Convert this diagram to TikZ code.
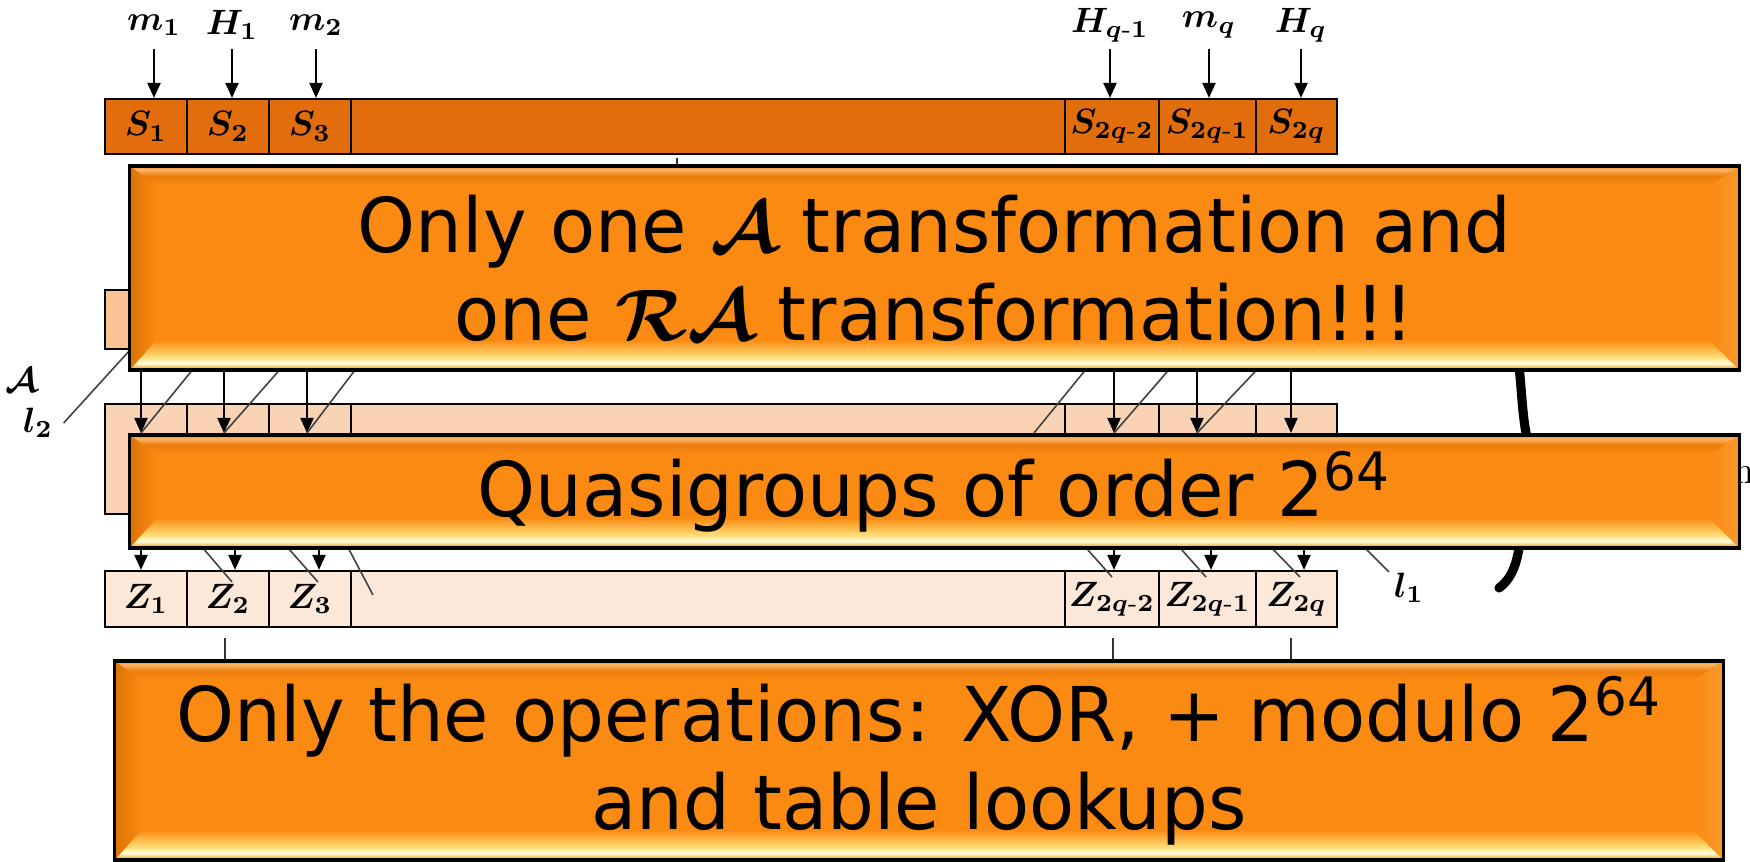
\documentclass[tikz,border=0pt]{standalone}
\usepackage{fontspec}
\usepackage{amsmath}
\usepackage{bm}
\usetikzlibrary{arrows.meta}
\newfontfamily\bannerfont{DejaVu Sans}[FakeStretch=0.975]
\definecolor{srow}{HTML}{E26D0C}
\definecolor{arowc}{HTML}{F9C394}
\definecolor{qrow}{HTML}{F9D3B3}
\definecolor{zrow}{HTML}{FCE8D9}
\definecolor{bnmain}{HTML}{FB8A12}
\definecolor{bndark}{HTML}{EB7D0B}
\definecolor{bnlight}{HTML}{FFB366}
\definecolor{bnedge}{HTML}{F29128}
\definecolor{bnlow}{HTML}{C0650C}
\definecolor{bngold}{HTML}{F6B43A}
\definecolor{bnwhite}{HTML}{FFFCE0}
\definecolor{bnyel}{HTML}{FFE07A}
\definecolor{bnside}{HTML}{DC7206}
\definecolor{bnrside}{HTML}{F79A2C}
\pgfdeclareverticalshading{bevtop}{100bp}{color(0bp)=(bnmain); color(25bp)=(bnmain); color(50bp)=(bndark); color(66bp)=(bnlight); color(75bp)=(bnedge); color(100bp)=(bnedge)}
\pgfdeclareverticalshading{bevbot}{100bp}{color(0bp)=(bnlow); color(25bp)=(bnlow); color(29bp)=(bngold); color(36bp)=(bnwhite); color(46bp)=(bnyel); color(75bp)=(bnmain); color(100bp)=(bnmain)}
\pgfdeclarehorizontalshading{bevleft}{100bp}{color(0bp)=(bnside); color(25bp)=(bnside); color(75bp)=(bnmain); color(100bp)=(bnmain)}
\pgfdeclarehorizontalshading{bevright}{100bp}{color(0bp)=(bnmain); color(25bp)=(bnmain); color(75bp)=(bnrside); color(100bp)=(bnrside)}

\begin{document}
\begin{tikzpicture}[x=0.01cm,y=-0.01cm]
\tikzstyle{every node}+=[inner sep=0pt]
\tikzstyle{lab}=[font=\fontsize{10}{12}\selectfont\boldmath]
\tikzstyle{scell}=[draw=black, line width=0.6pt, fill=srow, minimum height=0.55cm, lab]
\tikzstyle{qcell}=[draw=black, line width=0.6pt, fill=qrow, minimum height=1.1cm]
\tikzstyle{zcell}=[draw=black, line width=0.6pt, fill=zrow, minimum height=0.56cm, lab]
\tikzstyle{arr}=[line width=0.6pt, -{Triangle[length=0.15cm,width=0.13cm]}]
\tikzstyle{diag}=[line width=0.45pt, black!75]
\tikzstyle{tick}=[line width=0.5pt, black!80]
\tikzstyle{brace}=[line width=2.6pt, line cap=round]
\tikzstyle{banner}=[draw=black, line width=1pt, fill=bnmain, align=center,
  font=\bannerfont\fontsize{21.5}{25}\selectfont,
  path picture={
    \coordinate (pnw) at (path picture bounding box.north west);
    \coordinate (pne) at (path picture bounding box.north east);
    \coordinate (psw) at (path picture bounding box.south west);
    \coordinate (pse) at (path picture bounding box.south east);
    \shade[shading=bevtop] (pnw) -- (pne) -- ([xshift=-0.3cm,yshift=-0.2cm]pne) -- ([xshift=0.27cm,yshift=-0.2cm]pnw) -- cycle;
    \shade[shading=bevbot] (psw) -- (pse) -- ([xshift=-0.3cm,yshift=0.3cm]pse) -- ([xshift=0.27cm,yshift=0.3cm]psw) -- cycle;
    \shade[shading=bevleft] (pnw) -- ([xshift=0.27cm,yshift=-0.2cm]pnw) -- ([xshift=0.27cm,yshift=0.3cm]psw) -- (psw) -- cycle;
    \shade[shading=bevright] (pne) -- ([xshift=-0.3cm,yshift=-0.2cm]pne) -- ([xshift=-0.3cm,yshift=0.3cm]pse) -- (pse) -- cycle;
  }]
\useasboundingbox (0,0) rectangle (1750,862);
% inputs
\node[lab] (lm1) at (154,25) {$m_1$};
\node[lab] (lh1) at (232,25) {$H_1$};
\node[lab] (lm2) at (316,25) {$m_2$};
\node[lab] (lhq1) at (1110,25) {$H_{q\text{-}1}$};
\node[lab] (lmq) at (1209,25) {$m_q$};
\node[lab] (lhq) at (1301,25) {$H_q$};
% state row
\node[scell, minimum width=0.82cm] (s1) at (146,126.5) {$S_1$};
\node[scell, minimum width=0.82cm] (s2) at (228,126.5) {$S_2$};
\node[scell, minimum width=0.82cm] (s3) at (310,126.5) {$S_3$};
\node[scell, minimum width=7.14cm] (smid) at (708,126.5) {};
\node[scell, minimum width=0.94cm] (s4) at (1112,126.5) {$S_{2q\text{-}2}$};
\node[scell, minimum width=0.97cm] (s5) at (1207.5,126.5) {$S_{2q\text{-}1}$};
\node[scell, minimum width=0.81cm] (s6) at (1296.5,126.5) {$S_{2q}$};
\draw[arr] ([yshift=-0.24cm]lm1.center) -- (lm1 |- s1.north);
\draw[arr] ([yshift=-0.24cm]lh1.center) -- (lh1 |- s2.north);
\draw[arr] ([yshift=-0.24cm]lm2.center) -- (lm2 |- s3.north);
\draw[arr] ([yshift=-0.24cm]lhq1.center) -- (lhq1 |- s4.north);
\draw[arr] ([yshift=-0.24cm]lmq.center) -- (lmq |- s5.north);
\draw[arr] ([yshift=-0.24cm]lhq.center) -- (lhq |- s6.north);
% rows under the first banner
\node[draw=black, line width=0.6pt, fill=arowc, minimum width=12.32cm, minimum height=0.59cm] (arow) at (721,319.5) {};
\node[qcell, minimum width=0.82cm] (q1) at (146,459) {};
\node[qcell, minimum width=0.82cm] (q2) at (228,459) {};
\node[qcell, minimum width=0.82cm] (q3) at (310,459) {};
\node[qcell, minimum width=7.14cm] (qmid) at (708,459) {};
\node[qcell, minimum width=0.94cm] (q4) at (1112,459) {};
\node[qcell, minimum width=0.97cm] (q5) at (1207.5,459) {};
\node[qcell, minimum width=0.81cm] (q6) at (1296.5,459) {};
\coordinate (ta0) at (1034,433);
\coordinate (ta1) at (141,433);
\coordinate (ta2) at (224,433);
\coordinate (ta3) at (307,433);
\coordinate (ta4) at (1114,433);
\coordinate (ta5) at (1197,433);
\coordinate (ta6) at (1291,433);
\draw[arr] (arow.south -| ta1) -- (ta1);
\draw[arr] (arow.south -| ta2) -- (ta2);
\draw[arr] (arow.south -| ta3) -- (ta3);
\draw[arr] (arow.south -| ta4) -- (ta4);
\draw[arr] (arow.south -| ta5) -- (ta5);
\draw[arr] (arow.south -| ta6) -- (ta6);
\draw[diag] ([shift={(0.62cm,0.76cm)}]ta1) -- (ta1);
\draw[diag] ([shift={(0.67cm,0.76cm)}]ta2) -- (ta2);
\draw[diag] ([shift={(0.58cm,0.76cm)}]ta3) -- (ta3);
\draw[diag] ([shift={(0.62cm,0.76cm)}]ta0) -- (ta0);
\draw[diag] ([shift={(0.66cm,0.76cm)}]ta4) -- (ta4);
\draw[diag] ([shift={(0.72cm,0.76cm)}]ta5) -- (ta5);
% output row
\node[zcell, minimum width=0.82cm] (z1) at (146,599) {$Z_1$};
\node[zcell, minimum width=0.82cm] (z2) at (228,599) {$Z_2$};
\node[zcell, minimum width=0.82cm] (z3) at (310,599) {$Z_3$};
\node[zcell, minimum width=7.14cm] (zmid) at (708,599) {};
\node[zcell, minimum width=0.94cm] (z4) at (1112,599) {$Z_{2q\text{-}2}$};
\node[zcell, minimum width=0.97cm] (z5) at (1207.5,599) {$Z_{2q\text{-}1}$};
\node[zcell, minimum width=0.81cm] (z6) at (1296.5,599) {$Z_{2q}$};
\draw[arr] ([xshift=-0.05cm]q1.south) -- ([xshift=-0.05cm]z1.north);
\draw[arr] ([xshift=0.07cm]q2.south) -- ([xshift=0.07cm]z2.north);
\draw[arr] ([xshift=0.09cm]q3.south) -- ([xshift=0.09cm]z3.north);
\draw[arr] ([xshift=0.02cm]q4.south) -- ([xshift=0.02cm]z4.north);
\draw[arr] ([xshift=0.035cm]q5.south) -- ([xshift=0.035cm]z5.north);
\draw[arr] ([xshift=0.075cm]q6.south) -- ([xshift=0.075cm]z6.north);
\coordinate (zd1) at (232,582);
\coordinate (zd2) at (318,582);
\coordinate (zd3) at (373,595);
\coordinate (zd4) at (1112,577);
\coordinate (zd5) at (1206,577);
\coordinate (zd6) at (1300,577);
\coordinate (l1end) at (1389,572);
\draw[diag] ([shift={(-0.36cm,0.42cm)}]zd1) -- (zd1);
\draw[diag] ([shift={(-0.37cm,0.42cm)}]zd2) -- (zd2);
\draw[diag] ([shift={(-0.3cm,0.57cm)}]zd3) -- (zd3);
\draw[diag] ([shift={(-0.33cm,0.37cm)}]zd4) -- (zd4);
\draw[diag] ([shift={(-0.33cm,0.37cm)}]zd5) -- (zd5);
\draw[diag] ([shift={(-0.36cm,0.37cm)}]zd6) -- (zd6);
\draw[diag] ([shift={(-0.34cm,0.34cm)}]l1end) -- (l1end);
% side labels
\node[lab] (la) at (22,380) {$\mathcal{A}$};
\node[lab] (ll2) at (38,423) {$l_2$};
\node[lab] (ll1) at (1409,588) {$l_1$};
\coordinate (l2end) at (140,339);
\draw[diag] ([xshift=0.1cm]ll2.east) -- (l2end);
\draw[brace] (1504,330) .. controls (1530,345) and (1512,430) .. (1540,472) .. controls (1512,515) and (1530,565) .. (1499,588);
\node[font=\fontsize{11}{12}\selectfont] (hfrag) at (1744,470) {h};
% banners
\node[banner, minimum width=16.09cm, minimum height=2.04cm] (bnA) at (934.5,268) {Only one $\bm{\mathcal{A}}$ transformation and\\one $\bm{\mathcal{R}\mathcal{A}}$ transformation!!!};
\node[banner, minimum width=16.09cm, minimum height=1.13cm] (bnB) at (934.5,491.5) {Quasigroups of order 2\textsuperscript{64}};
\node[banner, minimum width=16.08cm, minimum height=1.99cm] (bnC) at (919,760.5) {Only the operations: XOR, + modulo 2\textsuperscript{64}\\and table lookups};
% ticks
\coordinate (tk0) at (677,158);
\draw[tick] (tk0) -- (tk0 |- bnA.north);
\coordinate (tk1) at ([xshift=-0.03cm,yshift=-0.1cm]z2.south);
\coordinate (tk2) at ([xshift=0.01cm,yshift=-0.1cm]z4.south);
\coordinate (tk3) at ([xshift=-0.055cm,yshift=-0.1cm]z6.south);
\draw[tick] (tk1) -- (tk1 |- bnC.north);
\draw[tick] (tk2) -- (tk2 |- bnC.north);
\draw[tick] (tk3) -- (tk3 |- bnC.north);
\end{tikzpicture}
\end{document}
